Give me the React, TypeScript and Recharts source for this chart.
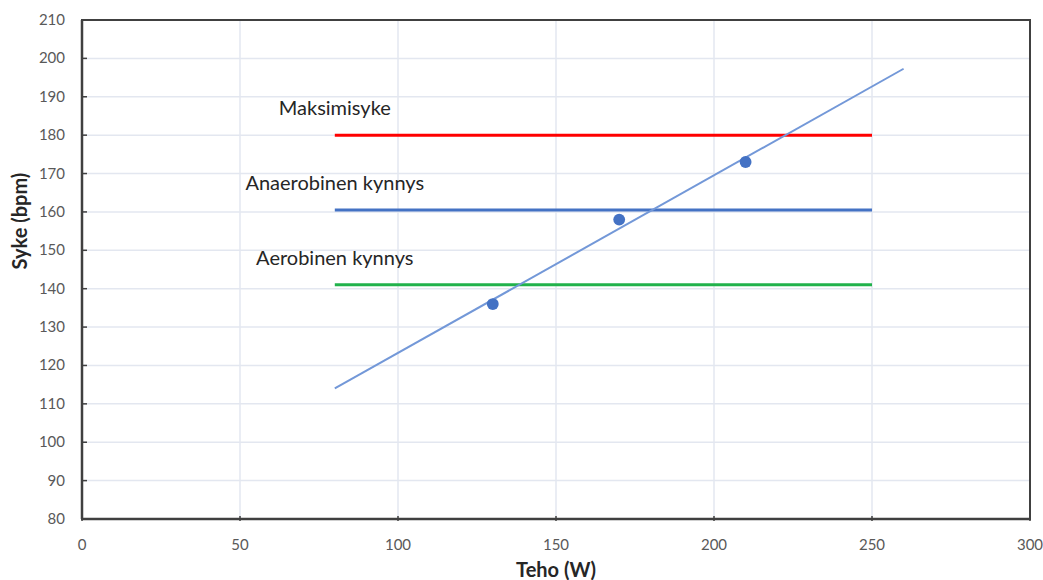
import React from "react";
import {
  ComposedChart,
  Line,
  Scatter,
  XAxis,
  YAxis,
  ZAxis,
  CartesianGrid,
  ReferenceArea,
} from "recharts";

const xTicks = [0, 50, 100, 150, 200, 250, 300];
const yTicks = [80, 90, 100, 110, 120, 130, 140, 150, 160, 170, 180, 190, 200, 210];

const measuredPower = [130, 170, 210];
const measuredHeartRate = [136, 158, 173];

const trendPower = [80, 260];
const trendHeartRate = [114.0, 197.3];

const thresholdNames = ["Maksimisyke", "Anaerobinen kynnys", "Aerobinen kynnys"];
const thresholdValues = [180, 160.5, 141];
const thresholdColors = ["#ff0000", "#4472c4", "#21b24b"];
const thresholdStart = 80;
const thresholdEnd = 250;

const points = measuredPower.map((x, i) => ({ x, y: measuredHeartRate[i] }));
const trend = trendPower.map((x, i) => ({ x, y: trendHeartRate[i] }));
const thresholdLines = thresholdValues.map((v) => [
  { x: thresholdStart, y: v },
  { x: thresholdEnd, y: v },
]);
const labelPoints = thresholdNames.map((name, i) => ({
  x: thresholdStart,
  y: thresholdValues[i],
  name,
}));

const FONT = "Lato, 'Open Sans', sans-serif";
const AXIS = "#404040";
const TICKTXT = "#595959";

const YTick = (props: any) => {
  const { x, y, payload } = props;
  return (
    <g>
      <line x1={x + 6} x2={x + 11} y1={y} y2={y} stroke={AXIS} strokeWidth={1.5} />
      <text x={x - 11} y={y} dy={5} textAnchor="end" fill={TICKTXT} fontSize={15} fontFamily={FONT}>
        {payload.value}
      </text>
    </g>
  );
};

const XTick = (props: any) => {
  const { x, y, payload } = props;
  return (
    <g>
      <line x1={x} x2={x} y1={y - 6} y2={y - 11} stroke={AXIS} strokeWidth={1.5} />
      <text x={x} y={y + 18} dy={5} textAnchor="middle" fill={TICKTXT} fontSize={15} fontFamily={FONT}>
        {payload.value}
      </text>
    </g>
  );
};

const LabelShape = (props: any) => {
  const { cx, cy, payload } = props;
  return (
    <text
      x={cx}
      y={cy - 27}
      dy={7}
      textAnchor="middle"
      fill="#262626"
      fontSize={20}
      fontFamily={FONT}
    >
      {payload.name}
    </text>
  );
};

export default function App() {
  return (
    <div style={{ position: "absolute", left: 0, top: 0, width: 1043, height: 580, background: "#fff" }}>
      <ComposedChart
        width={1043}
        height={580}
        margin={{ top: 20, right: 13, left: 0, bottom: 0 }}
      >
        <CartesianGrid stroke="#e3e7f0" strokeWidth={1.5} horizontalValues={yTicks} verticalValues={xTicks} />
        <XAxis
          type="number"
          dataKey="x"
          domain={[0, 300]}
          ticks={xTicks}
          height={61}
          axisLine={{ stroke: AXIS, strokeWidth: 2.5 }}
          tickLine={false}
          tick={<XTick />}
          interval={0}
          allowDataOverflow
          label={{
            value: "Teho (W)",
            position: "insideBottom",
            offset: 0,
            fill: "#262626",
            fontSize: 20,
            fontWeight: "bold",
            fontFamily: FONT,
            dy: -3,
          }}
        />
        <YAxis
          type="number"
          dataKey="y"
          domain={[80, 210]}
          ticks={yTicks}
          width={82}
          axisLine={{ stroke: AXIS, strokeWidth: 2.5 }}
          tickLine={false}
          tick={<YTick />}
          tickMargin={0}
          interval={0}
          allowDataOverflow
          label={{
            value: "Syke (bpm)",
            angle: -90,
            position: "insideLeft",
            offset: 0,
            fill: "#262626",
            fontSize: 20,
            fontWeight: "bold",
            fontFamily: FONT,
            dx: 20,
          }}
        />
        <ZAxis range={[110, 110]} />
        <ReferenceArea
          x1={0}
          x2={300}
          y1={80}
          y2={210}
          fill="none"
          fillOpacity={0}
          stroke={AXIS}
          strokeWidth={2}
          ifOverflow="visible"
        />
        {thresholdLines.map((d, i) => (
          <Line
            key={thresholdNames[i]}
            data={d}
            dataKey="y"
            type="linear"
            stroke={thresholdColors[i]}
            strokeWidth={3}
            dot={false}
            activeDot={false}
            isAnimationActive={false}
          />
        ))}
        <Line
          data={trend}
          dataKey="y"
          type="linear"
          stroke="#7398d8"
          strokeWidth={2}
          dot={false}
          activeDot={false}
          isAnimationActive={false}
        />
        <Scatter data={points} fill="#4472c4" shape="circle" isAnimationActive={false} />
        <Scatter data={labelPoints} shape={<LabelShape />} isAnimationActive={false} />
      </ComposedChart>
    </div>
  );
}
